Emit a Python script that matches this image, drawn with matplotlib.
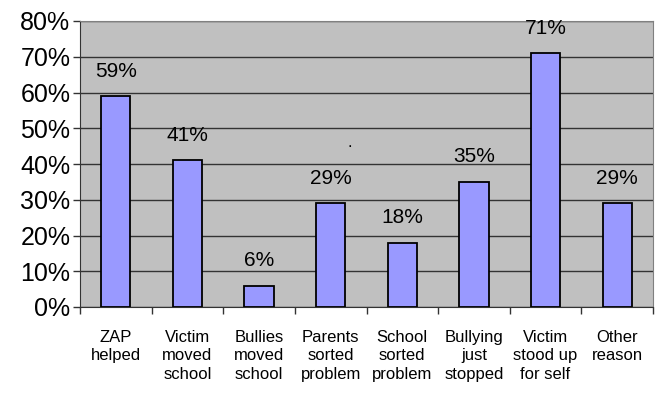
import matplotlib.pyplot as plt
import numpy as np

plt.rcParams['font.family'] = ['Liberation Sans', 'DejaVu Sans']

categories = ["ZAP\nhelped", "Victim\nmoved\nschool", "Bullies\nmoved\nschool",
              "Parents\nsorted\nproblem", "School\nsorted\nproblem",
              "Bullying\njust\nstopped", "Victim\nstood up\nfor self", "Other\nreason"]
values = [59, 41, 6, 29, 18, 35, 71, 29]
yticks = [0, 10, 20, 30, 40, 50, 60, 70, 80]

fig = plt.figure(figsize=(6.6, 3.98), dpi=100)
ax = fig.add_axes([80/660, 1 - 307/398, 573/660, 286/398])
ax.set_facecolor('#c0c0c0')

x = np.arange(len(values))
ax.bar(x, values, width=0.41, color='#9999ff', edgecolor='black', linewidth=1.3, zorder=3)
for xi, v in zip(x, values):
    ax.annotate(f"{v}%", (xi, v), xytext=(0, 18), textcoords='offset points',
                ha='center', va='center', fontsize=15)
# stray dot above the parents label
ax.annotate(".", (3, 29), xytext=(14, 44), textcoords='offset points',
            ha='center', va='center', fontsize=12)

ax.set_xlim(-0.5, len(values) - 0.5)
ax.set_ylim(0, 80)
ax.set_yticks(yticks)
ax.set_yticklabels([f"{t}%" for t in yticks], fontsize=18)
ax.yaxis.grid(True, color='#333333', linewidth=1, zorder=0)
ax.set_axisbelow(True)

ax.set_xticks(np.arange(len(values) + 1) - 0.5)
ax.set_xticklabels([])
ax.tick_params(axis='x', length=5, width=1, color='#333333')
ax.tick_params(axis='y', length=5, width=1, color='#333333', pad=2)
for xi, lab in zip(x, categories):
    ax.text(xi, -6.3, lab, ha='center', va='top', fontsize=12, linespacing=1.3,
            transform=ax.transData)

for s in ['top', 'right']:
    ax.spines[s].set_color('#808080')
ax.spines['left'].set_color('#333333')
ax.spines['bottom'].set_color('#333333')

fig.savefig('out.png', dpi=100)
